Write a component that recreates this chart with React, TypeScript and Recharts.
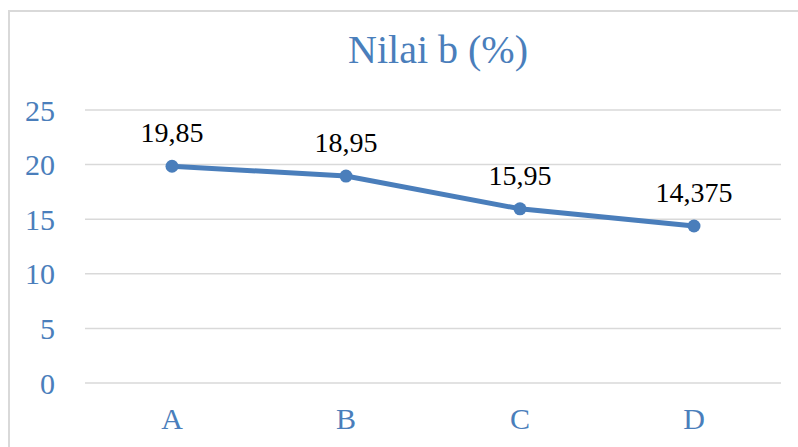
import React from "react";
import { CartesianGrid, Line, LineChart, XAxis, YAxis } from "recharts";

const categories = ["A", "B", "C", "D"];
const nilaiB = [19.85, 18.95, 15.95, 14.375];
const yTicks = [0, 5, 10, 15, 20, 25];
const chartTitle = "Nilai b (%)";

const data = categories.map((name, i) => ({ name, value: nilaiB[i] }));

const blue = "#4A7EBB";
const serif = '"Liberation Serif", "Times New Roman", serif';

const formatValue = (v: number) => String(v).replace(".", ",");

function PointLabel(props: any) {
  const { x, y, value } = props;
  return (
    <text
      x={x}
      y={y - 24}
      textAnchor="middle"
      fontFamily={serif}
      fontSize={28}
      fill="#000"
    >
      {formatValue(value)}
    </text>
  );
}

export default function App() {
  return (
    <div
      style={{
        position: "absolute",
        left: 8,
        top: 10,
        width: 800,
        height: 450,
        border: "2px solid #d9d9d9",
        background: "#fff",
      }}
    >
      <svg
        width={790}
        height={80}
        style={{ position: "absolute", left: 0, top: 0 }}
      >
        <text
          x={428}
          y={51}
          textAnchor="middle"
          fontFamily={serif}
          fontSize={40}
          fill={blue}
        >
          {chartTitle}
        </text>
      </svg>
      <LineChart
        width={790}
        height={450}
        data={data}
        margin={{ top: 98, right: 19, left: 0, bottom: 29 }}
      >
        <CartesianGrid vertical={false} stroke="#d9d9d9" strokeWidth={1.5} />
        <XAxis
          dataKey="name"
          axisLine={false}
          tickLine={false}
          tickSize={0}
          tickMargin={25}
          height={50}
          padding={{ left: 87, right: 87 }}
          tick={{ fontFamily: serif, fontSize: 30, fill: blue }}
        />
        <YAxis
          domain={[0, 25]}
          ticks={yTicks}
          width={75}
          axisLine={false}
          tickLine={false}
          tickSize={0}
          tickMargin={30}
          interval={0}
          tick={{ fontFamily: serif, fontSize: 30, fill: blue }}
        />
        <Line
          dataKey="value"
          stroke={blue}
          strokeWidth={5}
          dot={{ r: 6.5, fill: blue, stroke: blue, strokeWidth: 0 }}
          activeDot={false}
          label={<PointLabel />}
          isAnimationActive={false}
        />
      </LineChart>
    </div>
  );
}
